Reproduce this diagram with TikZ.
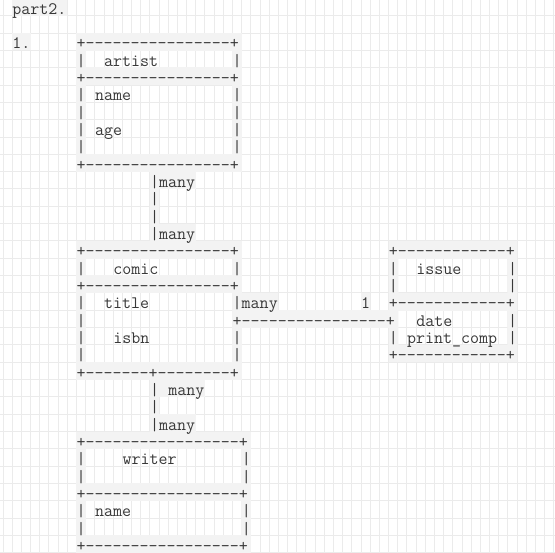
\documentclass[tikz,border=0pt]{standalone}
\usepackage{xcolor}
\usepackage{tikz}
\usetikzlibrary{positioning}

\definecolor{gridline}{HTML}{EBEBEB}
\definecolor{codebg}{HTML}{F3F3F3}
\definecolor{codetext}{HTML}{383838}

% character cell of the sheet (1pt = 1px)
\newcommand{\cw}{9.18}
\newcommand{\rh}{17.33}
\newcommand{\xo}{12.2}
\newcommand{\yo}{-1.63}

\tikzset{
  asc/.style={font=\ttfamily\fontsize{17.49}{20}\selectfont, text=codetext, inner sep=0pt, text depth=0pt, anchor=base west},
  gridrule/.style={gridline, line width=1pt},
}

% text placed at cell (col,row)
\newcommand{\ascii}[4]{\node[asc] (#1) at ({\xo+\cw*#2},{\yo+\rh*#3+15.8}) {#4};}
% fill cells (c1,r1)..(c2,r2)
\newcommand{\cellfill}[5]{\fill[#1] ({\xo+\cw*#2},{\yo+\rh*#3}) rectangle ({\xo+\cw*(#4+1)},{\yo+\rh*(#5+1)});}
% squared paper
\newcommand{\sheetgrid}{%
  \foreach \k in {0,...,60} \draw[gridrule] ({\xo-\cw+\cw*\k},0) -- ({\xo-\cw+\cw*\k},553);
  \foreach \k in {0,...,31} \draw[gridrule] (0,{\yo+\rh+\rh*\k}) -- (555,{\yo+\rh+\rh*\k});
}
% inside of a box part: white with the paper showing
\newcommand{\compart}[4]{%
  \begin{scope}
    \clip ({\xo+\cw*#1+0.5},{\yo+\rh*#2+0.8}) rectangle ({\xo+\cw*(#3+1)-0.5},{\yo+\rh*(#4+1)-0.8});
    \fill[white] (0,0) rectangle (555,553);
    \sheetgrid
  \end{scope}}

\begin{document}
\begin{tikzpicture}[x=1pt, y=-1pt]
    \useasboundingbox (0,0) rectangle (555,553);
    \fill[white] (0,0) rectangle (555,553);

    % Paper
    \sheetgrid

    % Box backgrounds
    \cellfill{codebg}{7}{2}{24}{9}
    \compart{8}{3}{23}{3}
    \compart{8}{5}{23}{8}
    \cellfill{codebg}{7}{14}{24}{21}
    \compart{8}{15}{23}{15}
    \compart{8}{17}{23}{20}
    \cellfill{codebg}{41}{14}{54}{20}
    \compart{42}{15}{53}{16}
    \compart{42}{18}{53}{19}
    \cellfill{codebg}{7}{25}{25}{31}
    \compart{8}{26}{24}{27}
    \compart{8}{29}{24}{30}

    % Text backgrounds outside the boxes
    \cellfill{codebg}{0}{0}{5}{0}
    \cellfill{codebg}{0}{2}{1}{2}
    \cellfill{codebg}{15}{10}{19}{10}
    \cellfill{codebg}{15}{11}{15}{12}
    \cellfill{codebg}{15}{13}{19}{13}
    \cellfill{codebg}{25}{17}{28}{17}
    \cellfill{codebg}{38}{17}{38}{17}
    \cellfill{codebg}{25}{18}{40}{18}
    \cellfill{codebg}{15}{22}{20}{22}
    \cellfill{codebg}{15}{23}{15}{23}
    \cellfill{codebg}{15}{24}{19}{24}

    % Heading
    \ascii{part}{0}{0}{part2.}
    \ascii{num}{0}{2}{1.}

    % Artist
    \ascii{artTop}{7}{2}{+----------------+}
    \ascii{artL3}{7}{3}{|}
    \ascii{artist}{10}{3}{artist}
    \ascii{artR3}{24}{3}{|}
    \ascii{artMid}{7}{4}{+----------------+}
    \foreach \r in {5,...,8} {
        \ascii{artL\r}{7}{\r}{|}
        \ascii{artR\r}{24}{\r}{|}
    }
    \ascii{artName}{9}{5}{name}
    \ascii{artAge}{9}{7}{age}
    \ascii{artBot}{7}{9}{+----------------+}

    % Artist -- comic
    \ascii{acTop}{15}{10}{|many}
    \ascii{ac11}{15}{11}{|}
    \ascii{ac12}{15}{12}{|}
    \ascii{acBot}{15}{13}{|many}

    % Comic
    \ascii{comTop}{7}{14}{+----------------+}
    \ascii{comL15}{7}{15}{|}
    \ascii{comic}{11}{15}{comic}
    \ascii{comR15}{24}{15}{|}
    \ascii{comMid}{7}{16}{+----------------+}
    \foreach \r in {17,...,20} {
        \ascii{comL\r}{7}{\r}{|}
    }
    \ascii{comR17}{24}{17}{|many}
    \ascii{comR19}{24}{19}{|}
    \ascii{comR20}{24}{20}{|}
    \ascii{comTitle}{10}{17}{title}
    \ascii{comIsbn}{11}{19}{isbn}
    \ascii{comBot}{7}{21}{+-------+--------+}

    % Comic -- issue
    \ascii{ciOne}{38}{17}{1}
    \ascii{ciLine}{24}{18}{+----------------+}

    % Issue
    \ascii{issTop}{41}{14}{+------------+}
    \foreach \r in {15,16} {
        \ascii{issL\r}{41}{\r}{|}
        \ascii{issR\r}{54}{\r}{|}
    }
    \ascii{issue}{44}{15}{issue}
    \ascii{issMid}{41}{17}{+------------+}
    \ascii{issDate}{44}{18}{date}
    \ascii{issR18}{54}{18}{|}
    \ascii{issL19}{41}{19}{|}
    \ascii{issPrint}{43}{19}{print\_comp}
    \ascii{issR19}{54}{19}{|}
    \ascii{issBot}{41}{20}{+------------+}

    % Comic -- writer
    \ascii{cwTop}{15}{22}{|}
    \ascii{cwMany}{17}{22}{many}
    \ascii{cw23}{15}{23}{|}
    \ascii{cwBot}{15}{24}{|many}

    % Writer
    \ascii{wriTop}{7}{25}{+-----------------+}
    \foreach \r in {26,27,29,30} {
        \ascii{wriL\r}{7}{\r}{|}
        \ascii{wriR\r}{25}{\r}{|}
    }
    \ascii{writer}{12}{26}{writer}
    \ascii{wriMid}{7}{28}{+-----------------+}
    \ascii{wriName}{9}{29}{name}
    \ascii{wriBot}{7}{31}{+-----------------+}
\end{tikzpicture}
\end{document}
